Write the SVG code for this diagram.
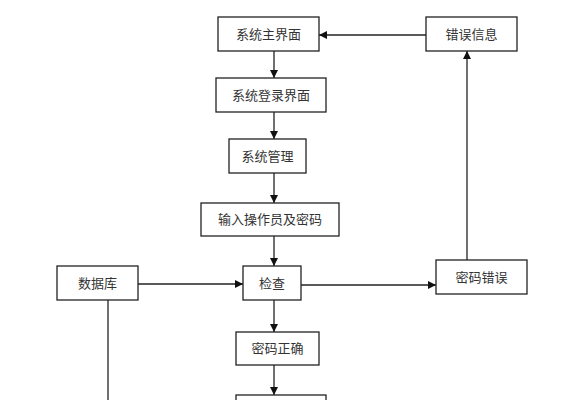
<svg xmlns="http://www.w3.org/2000/svg" width="580" height="400" viewBox="0 0 580 400">
<style>
.box{fill:#fff;stroke:#222;stroke-width:1.3}
.t{font-family:"Liberation Serif","Noto Sans CJK SC",serif;font-size:13px;fill:#333;text-anchor:middle;dominant-baseline:central}
.c{fill:none;stroke:#222;stroke-width:1.3}
</style>
<defs>
<marker id="ah" viewBox="0 0 10 10" refX="10" refY="5" markerWidth="8" markerHeight="8" markerUnits="userSpaceOnUse" orient="auto">
<path d="M0,0 L10,5 L0,10 z" fill="#111"/>
</marker>
</defs>
<rect width="580" height="400" fill="#fff"/>
<g id="connectors">
<line class="c" x1="274" y1="51" x2="274" y2="78" marker-end="url(#ah)"/>
<line class="c" x1="274" y1="112" x2="274" y2="139" marker-end="url(#ah)"/>
<line class="c" x1="274" y1="173" x2="274" y2="203" marker-end="url(#ah)"/>
<line class="c" x1="274" y1="236" x2="274" y2="266" marker-end="url(#ah)"/>
<line class="c" x1="274" y1="300" x2="274" y2="332" marker-end="url(#ah)"/>
<line class="c" x1="274" y1="365" x2="274" y2="395" marker-end="url(#ah)"/>
<line class="c" x1="138" y1="284" x2="243" y2="284" marker-end="url(#ah)"/>
<line class="c" x1="301" y1="285" x2="436" y2="285" marker-end="url(#ah)"/>
<line class="c" x1="467" y1="260" x2="467" y2="51" marker-end="url(#ah)"/>
<line class="c" x1="426" y1="35" x2="319" y2="35" marker-end="url(#ah)"/>
<line class="c" x1="108" y1="300" x2="108" y2="400"/>
</g>
<g id="n1"><rect class="box" x="218" y="17" width="101" height="34"/><text class="t" x="268.5" y="34">系统主界面</text></g>
<g id="n2"><rect class="box" x="216" y="78" width="110" height="34"/><text class="t" x="271" y="95">系统登录界面</text></g>
<g id="n3"><rect class="box" x="229" y="139" width="77" height="34"/><text class="t" x="267.5" y="156">系统管理</text></g>
<g id="n4"><rect class="box" x="201" y="203" width="138" height="33"/><text class="t" x="270" y="219.5">输入操作员及密码</text></g>
<g id="n5"><rect class="box" x="243" y="266" width="58" height="34"/><text class="t" x="272" y="283">检查</text></g>
<g id="n6"><rect class="box" x="57" y="266" width="81" height="34"/><text class="t" x="97.5" y="283">数据库</text></g>
<g id="n7"><rect class="box" x="236" y="332" width="83" height="33"/><text class="t" x="277.5" y="348.5">密码正确</text></g>
<g id="n8"><rect class="box" x="236" y="395" width="90" height="20"/></g>
<g id="n9"><rect class="box" x="426" y="17" width="91" height="34"/><text class="t" x="471.5" y="34">错误信息</text></g>
<g id="n10"><rect class="box" x="436" y="260" width="91" height="34"/><text class="t" x="481.5" y="277">密码错误</text></g>
</svg>
